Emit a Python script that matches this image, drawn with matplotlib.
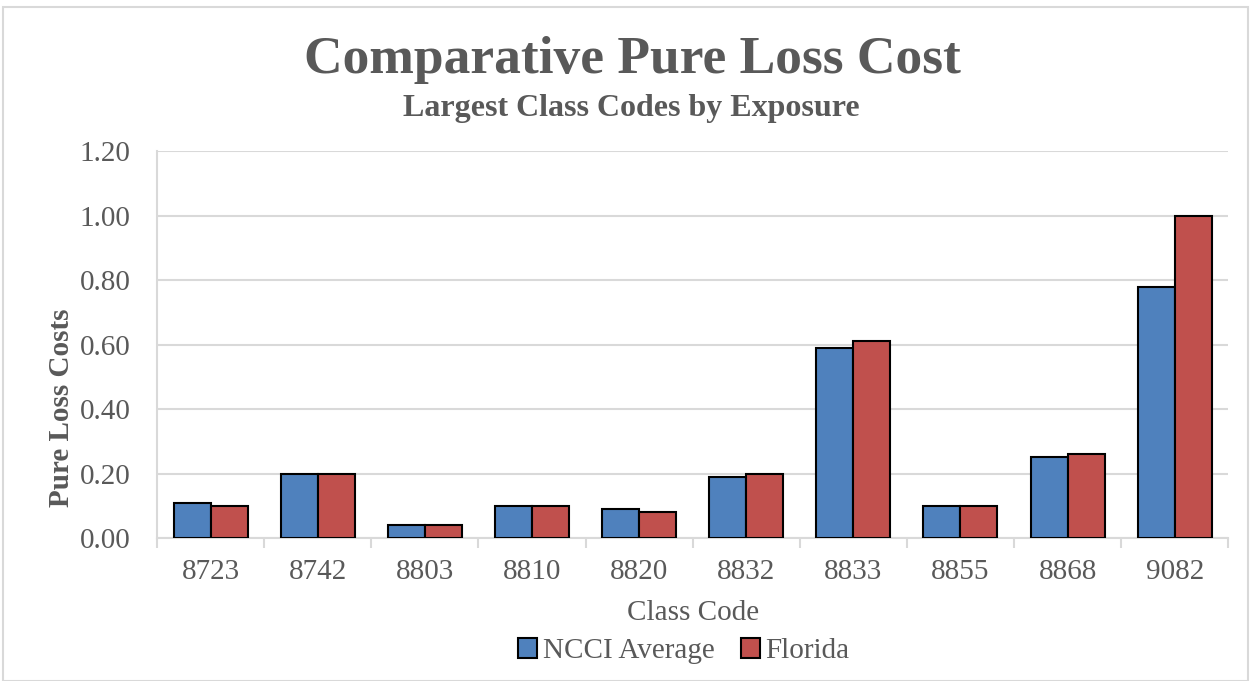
import matplotlib
matplotlib.use("Agg")
import matplotlib.pyplot as plt
import numpy as np
from matplotlib.patches import Rectangle

categories = ["8723", "8742", "8803", "8810", "8820", "8832", "8833", "8855", "8868", "9082"]
ncci = [0.11, 0.20, 0.04, 0.10, 0.09, 0.19, 0.59, 0.10, 0.25, 0.78]
florida = [0.10, 0.20, 0.04, 0.10, 0.08, 0.20, 0.61, 0.10, 0.26, 1.00]
yticks = [0.0, 0.2, 0.4, 0.6, 0.8, 1.0, 1.2]

plt.rcParams['font.family'] = ['Liberation Serif', 'DejaVu Serif']
gray = "#595959"

fig = plt.figure(figsize=(12.5, 6.81), dpi=100)
ax = fig.add_axes([0.1256, 0.21, 0.857, 0.568])

x = np.arange(len(categories))
w = 0.345
ax.bar(x - w/2, ncci, w, color="#4f81bd", edgecolor="black", linewidth=1.5, label="NCCI Average", zorder=3)
ax.bar(x + w/2, florida, w, color="#c0504d", edgecolor="black", linewidth=1.5, label="Florida", zorder=3)

ax.set_xlim(-0.5, len(categories) - 0.5)
ax.set_ylim(0, 1.2)
ax.set_yticks(yticks)
ax.set_yticklabels([f"{v:.2f}" for v in yticks], fontsize=21, color=gray)
ax.set_xticks(x)
ax.set_xticklabels(categories, fontsize=21, color=gray)
ax.tick_params(axis='x', length=0, pad=15)
ax.tick_params(axis='y', length=0, pad=19)
ax.set_xticks(np.arange(-0.5, len(categories)), minor=True)
ax.tick_params(axis='x', which='minor', length=7, color="#d9d9d9", width=1.5)
ax.grid(axis='y', color="#d9d9d9", linewidth=1.5, zorder=0)
for s in ['top', 'right']:
    ax.spines[s].set_visible(False)
ax.spines['left'].set_color("#d9d9d9")
ax.spines['left'].set_linewidth(1.5)
ax.spines['bottom'].set_color("#d9d9d9")
ax.spines['bottom'].set_linewidth(1.5)

ax.set_xlabel("Class Code", fontsize=21, color=gray, labelpad=11)
ax.set_ylabel("Pure Loss Costs", fontsize=21, color=gray, fontweight='bold')
ax.yaxis.set_label_coords(-0.0766, 0.336)

fig.text(0.506, 0.912, "Comparative Pure Loss Cost", ha='center', va='center',
         fontsize=38.5, fontweight='bold', color=gray)
fig.text(0.505, 0.84, "Largest Class Codes by Exposure", ha='center', va='center',
         fontsize=23, fontweight='bold', color=gray)

leg = fig.legend(loc='center', bbox_to_anchor=(0.547, 0.044), ncol=2, frameon=False,
                 fontsize=21, handlelength=0.65, handleheight=0.65, handletextpad=0.2,
                 columnspacing=0.9)
for t in leg.get_texts():
    t.set_color(gray)

fig.patches.append(Rectangle((0.002, 0.0), 0.996, 0.99, transform=fig.transFigure,
                             fill=False, edgecolor="#d9d9d9", linewidth=1.5))

fig.savefig("out.png", dpi=100)
